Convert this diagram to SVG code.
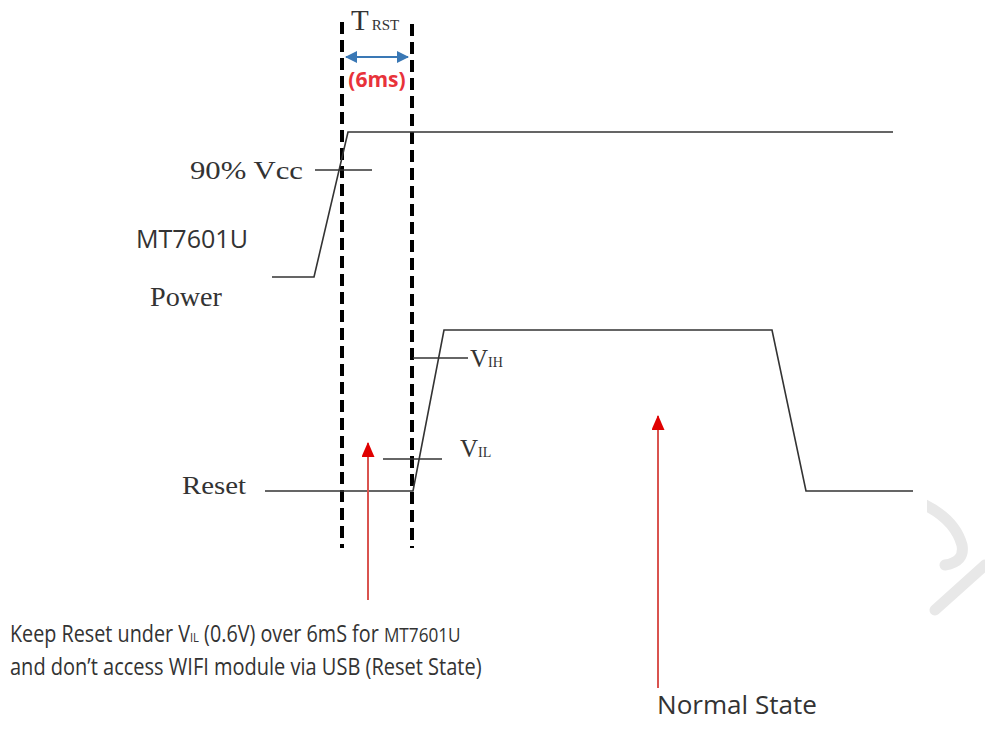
<svg xmlns="http://www.w3.org/2000/svg" width="985" height="731" viewBox="0 0 985 731">
<style>
.sig{fill:none;stroke:#333;stroke-width:1.6}
.dash{fill:none;stroke:#000;stroke-width:4;stroke-dasharray:12,6}
.serif{font-family:"Liberation Serif","DejaVu Serif",serif;fill:#333}
.sans{font-family:"Open Sans","Liberation Sans",sans-serif;fill:#333}
.red{stroke:#d9534f;stroke-width:2;fill:none}
.wm{fill:none;stroke:#e8e8e8;stroke-width:11;stroke-linecap:round}
</style>
<defs>
<marker id="redhead" markerWidth="16" markerHeight="14" refX="14" refY="6.5" orient="auto" markerUnits="userSpaceOnUse" viewBox="0 0 16 14">
<path d="M0,0 L15,6.5 L0,13 Z" fill="#e00000"/>
</marker>
<marker id="bluehead" markerWidth="12" markerHeight="12" refX="11" refY="6" orient="auto-start-reverse" markerUnits="userSpaceOnUse" viewBox="0 0 12 12">
<path d="M0,0 L12,6 L0,12 Z" fill="#3a78b5"/>
</marker>
<clipPath id="wmclip"><rect x="927" y="480" width="58" height="160"/></clipPath>
</defs>
<rect width="985" height="731" fill="#fff"/>

<g id="watermark" clip-path="url(#wmclip)">
<path class="wm" d="M925,505 Q955,520 962,545 Q965,562 945,565"/>
<path class="wm" d="M985,565 L935,610"/>
</g>

<g id="trst">
<line class="dash" x1="342" y1="22" x2="342" y2="548"/>
<line class="dash" x1="412" y1="24" x2="412" y2="548"/>
<line x1="346" y1="57" x2="408" y2="57" stroke="#3a78b5" stroke-width="2" marker-start="url(#bluehead)" marker-end="url(#bluehead)"/>
<text class="serif" x="351" y="30" font-size="29">T<tspan font-size="15" dx="3">RST</tspan></text>
<text x="377" y="87" font-family="'Open Sans','Liberation Sans',sans-serif" font-weight="bold" font-size="21" fill="#e8323a" text-anchor="middle">(6ms)</text>
</g>

<g id="power">
<polyline class="sig" points="272,277 314,277 348,132 893,132"/>
<line class="sig" x1="315" y1="170" x2="372" y2="170"/>
<text class="serif" x="190" y="179" font-size="26" textLength="113" lengthAdjust="spacingAndGlyphs">90% Vcc</text>
<text class="sans" x="136" y="248" font-size="25" textLength="112" lengthAdjust="spacingAndGlyphs">MT7601U</text>
<text class="serif" x="150" y="306" font-size="27" textLength="72" lengthAdjust="spacingAndGlyphs">Power</text>
</g>

<g id="reset">
<polyline class="sig" points="265,491 413,491 444,330 772,330 806,491 913,491"/>
<line class="sig" x1="413" y1="358" x2="468" y2="358"/>
<line class="sig" x1="383" y1="459" x2="442" y2="459"/>
<text class="serif" x="470" y="367" font-size="25">V<tspan font-size="14">IH</tspan></text>
<text class="serif" x="460" y="457" font-size="25">V<tspan font-size="14">IL</tspan></text>
<text class="serif" x="182" y="494" font-size="26" textLength="64" lengthAdjust="spacingAndGlyphs">Reset</text>
</g>

<g id="connectors">
<line class="red" x1="368" y1="600" x2="368" y2="443" marker-end="url(#redhead)"/>
<line class="red" x1="658" y1="688" x2="658" y2="416" marker-end="url(#redhead)"/>
</g>

<g id="notes">
<text class="sans" transform="translate(10,642) scale(0.86,1)" font-size="23">Keep Reset under V<tspan font-size="13">IL</tspan> (0.6V) over 6mS for <tspan font-size="20">MT7601U</tspan></text>
<text class="sans" transform="translate(10,675) scale(0.87,1)" font-size="23">and don’t access WIFI module via USB (Reset State)</text>
<text class="sans" x="657" y="714" font-size="25" textLength="160" lengthAdjust="spacingAndGlyphs">Normal State</text>
</g>
</svg>
